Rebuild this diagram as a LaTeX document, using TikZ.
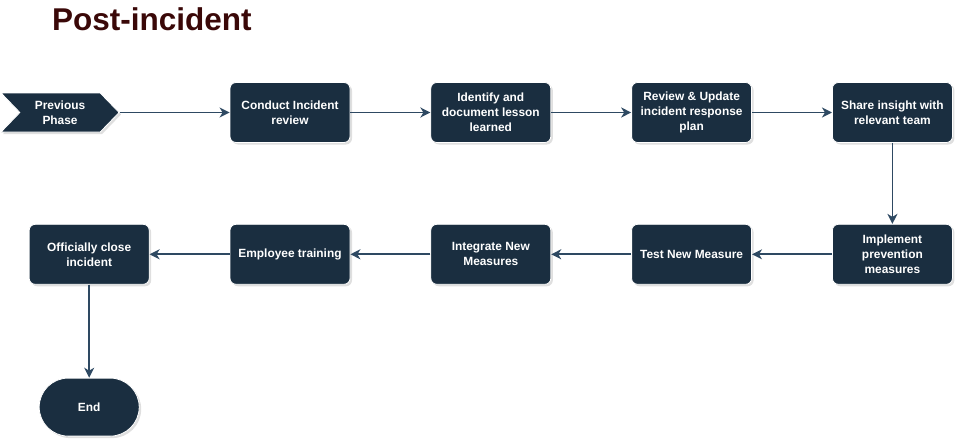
\documentclass[tikz,border=0pt]{standalone}
\usepackage{fontspec}
\setmainfont{Liberation Sans}
\usepackage{xcolor}
\usetikzlibrary{positioning,arrows.meta,shapes.symbols,shadows}
\definecolor{postnavy}{HTML}{1A2E40}
\definecolor{postline}{HTML}{2E4962}
\definecolor{posttitle}{HTML}{3A0808}
\tikzset{
    postbox/.style={draw=white, line width=0.8pt, rounded corners=6pt, fill=postnavy, text=white, align=center, font=\bfseries\fontsize{11.9}{15}\selectfont, minimum width=120pt, minimum height=60pt, inner sep=2pt, drop shadow={opacity=0.25, shadow xshift=2pt, shadow yshift=-2pt}},
    postphase/.style={signal, signal to=east, signal from=west, signal pointer angle=92, draw=white, line width=0.8pt, fill=postnavy, text=white, align=center, font=\bfseries\fontsize{11.9}{15}\selectfont, minimum width=118pt, minimum height=39pt, inner sep=1pt, drop shadow={opacity=0.25, shadow xshift=2pt, shadow yshift=-2pt}},
    postend/.style={draw=white, line width=0.8pt, rounded corners=29pt, fill=postnavy, text=white, align=center, font=\bfseries\fontsize{11.9}{15}\selectfont, minimum width=100pt, minimum height=58pt, drop shadow={opacity=0.25, shadow xshift=2pt, shadow yshift=-2pt}},
    postarrow/.style={draw=postline, line width=1.8pt, -{Stealth[length=10pt, width=10pt, inset=3pt]}},
    posttitlefont/.style={font=\bfseries\fontsize{31.5}{36}\selectfont, inner sep=0pt, anchor=base west}
}
\begin{document}
\begin{tikzpicture}[x=1pt, y=1pt, node distance=81pt and 80pt]
    \useasboundingbox (0,0) rectangle (961,-447);

    % title
    \node[posttitlefont, text=posttitle] (title) at (52,-30) {Post-incident};

    % first row
    \node[postbox] (conduct) at (290,-112.5) {Conduct Incident\\review};
    \node[postbox, right=of conduct] (identify) {Identify and\\document lesson\\learned};
    \node[postbox, right=of identify] (reviewplan) {Review \& Update\\incident response\\plan};
    \node[postbox, right=of reviewplan] (share) {Share insight with\\relevant team};
    \node[postphase, left=110pt of conduct] (prevphase) {Previous\\Phase};

    % second row
    \node[postbox, below=of share] (implement) {Implement\\prevention\\measures};
    \node[postbox, left=of implement] (testmeasure) {Test New Measure};
    \node[postbox, left=of testmeasure] (integrate) {Integrate New\\Measures};
    \node[postbox, left=of integrate] (training) {Employee training};
    \node[postbox, left=of training] (closeinc) {Officially close\\incident};
    \node[postend, below=93pt of closeinc] (endnode) {End};

    \draw[postarrow] (prevphase.east) -- (conduct.west);
    \draw[postarrow] (conduct) -- (identify);
    \draw[postarrow] (identify) -- (reviewplan);
    \draw[postarrow] (reviewplan) -- (share);
    \draw[postarrow] (share) -- (implement);
    \draw[postarrow] (implement) -- (testmeasure);
    \draw[postarrow] (testmeasure) -- (integrate);
    \draw[postarrow] (integrate) -- (training);
    \draw[postarrow] (training) -- (closeinc);
    \draw[postarrow] (closeinc) -- (endnode);
\end{tikzpicture}
\end{document}
